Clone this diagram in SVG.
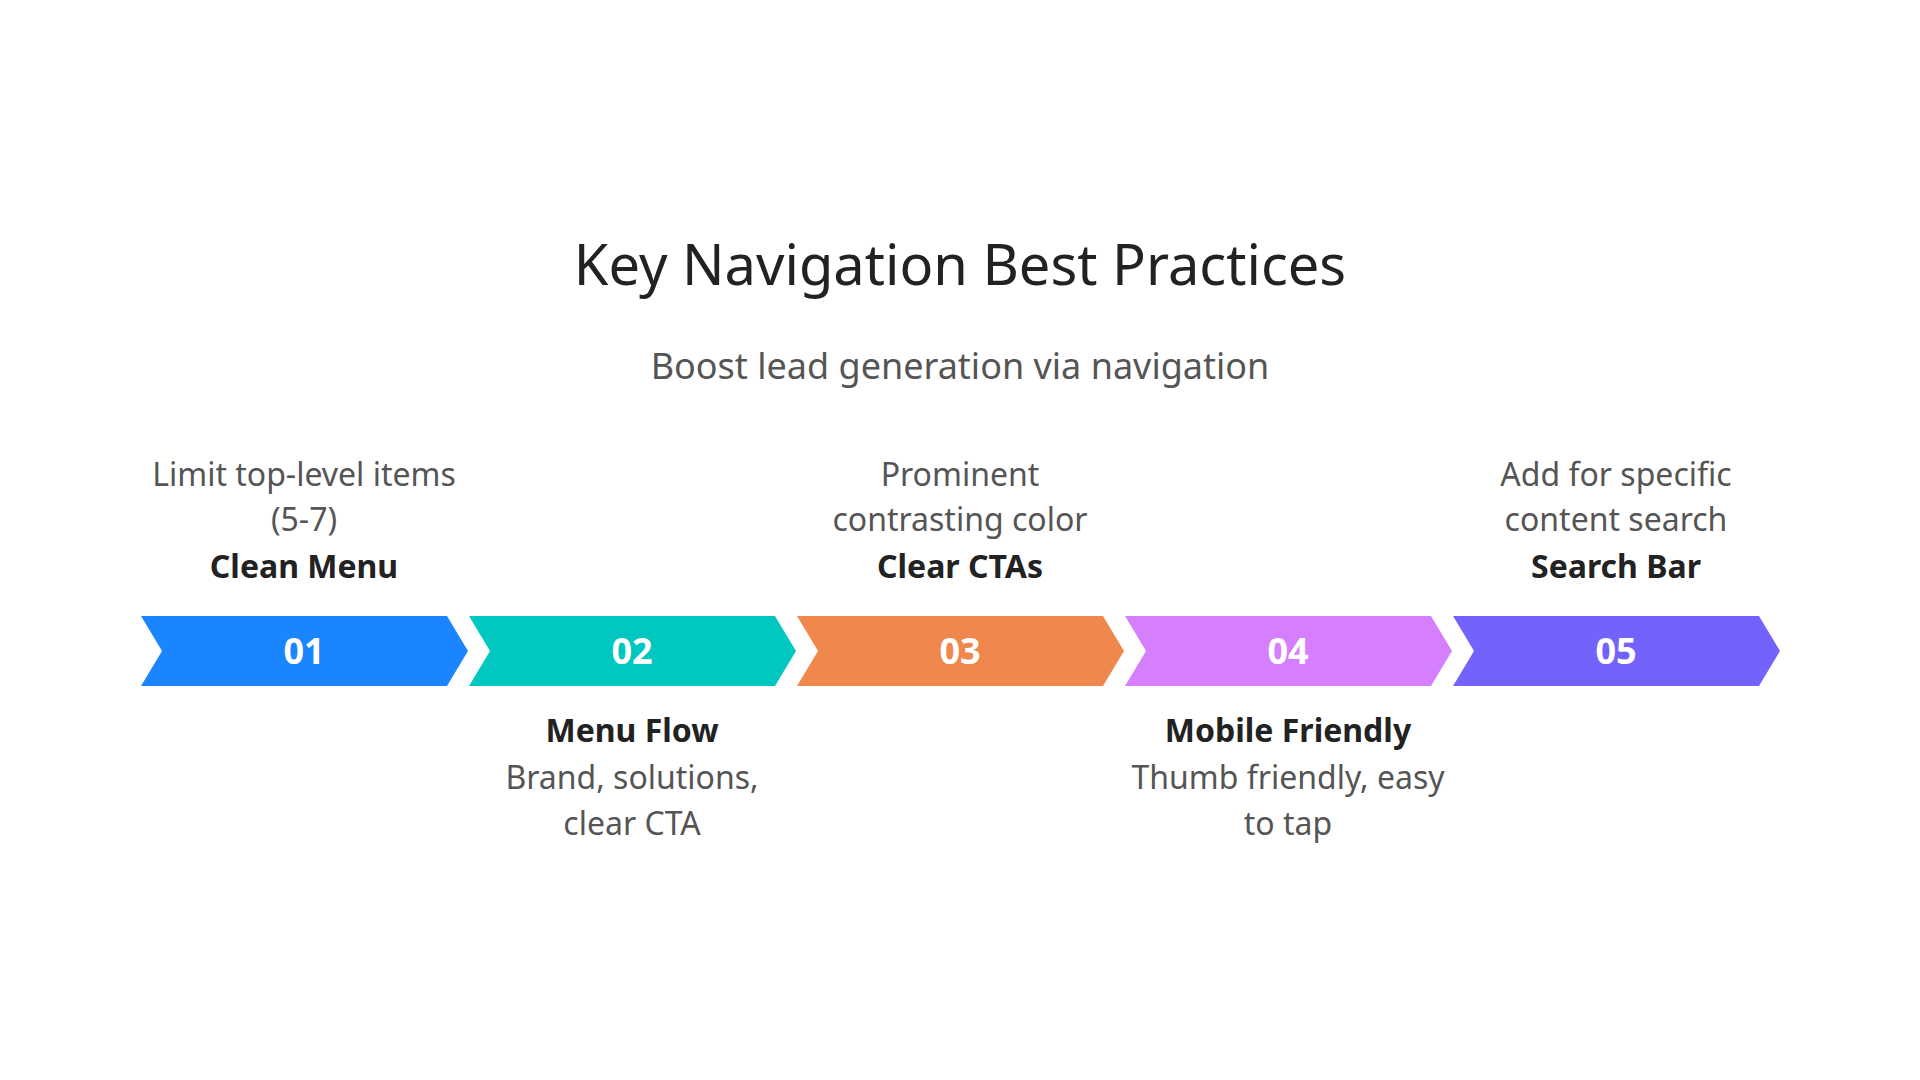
<svg xmlns="http://www.w3.org/2000/svg" width="1920" height="1080" viewBox="0 0 1920 1080">
<style>
text{font-family:"Noto Sans","Open Sans",sans-serif;text-anchor:middle}
.t{font-size:56px;fill:#222}
.s{font-size:36px;fill:#555}
.d{font-size:32px;fill:#555}
.b{font-size:32px;font-weight:bold;fill:#222}
.n{font-size:36px;font-weight:bold;fill:#fff}
</style>
<defs><path id="chev" d="M0,0 H306 L327,35 L306,70 H0 L21,35 Z"/></defs>
<rect width="1920" height="1080" fill="#fff"/>
<text class="t" x="960" y="285">Key Navigation Best Practices</text>
<text class="s" x="960" y="379">Boost lead generation via navigation</text>
<g id="connectors"/>
<g id="n1"><use href="#chev" x="141" y="616" fill="#1a85ff"/><text class="n" x="304" y="664">01</text>
<text class="d" x="304" y="486">Limit top-level items</text><text class="d" x="304" y="531">(5-7)</text><text class="b" x="304" y="578">Clean Menu</text></g>
<g id="n2"><use href="#chev" x="469" y="616" fill="#00c8c0"/><text class="n" x="632" y="664">02</text>
<text class="b" x="632" y="742">Menu Flow</text><text class="d" x="632" y="789">Brand, solutions,</text><text class="d" x="632" y="835">clear CTA</text></g>
<g id="n3"><use href="#chev" x="797" y="616" fill="#f0884e"/><text class="n" x="960" y="664">03</text>
<text class="d" x="960" y="486">Prominent</text><text class="d" x="960" y="531">contrasting color</text><text class="b" x="960" y="578">Clear CTAs</text></g>
<g id="n4"><use href="#chev" x="1125" y="616" fill="#d57fff"/><text class="n" x="1288" y="664">04</text>
<text class="b" x="1288" y="742">Mobile Friendly</text><text class="d" x="1288" y="789">Thumb friendly, easy</text><text class="d" x="1288" y="835">to tap</text></g>
<g id="n5"><use href="#chev" x="1453" y="616" fill="#7462fd"/><text class="n" x="1616" y="664">05</text>
<text class="d" x="1616" y="486">Add for specific</text><text class="d" x="1616" y="531">content search</text><text class="b" x="1616" y="578">Search Bar</text></g>
</svg>
